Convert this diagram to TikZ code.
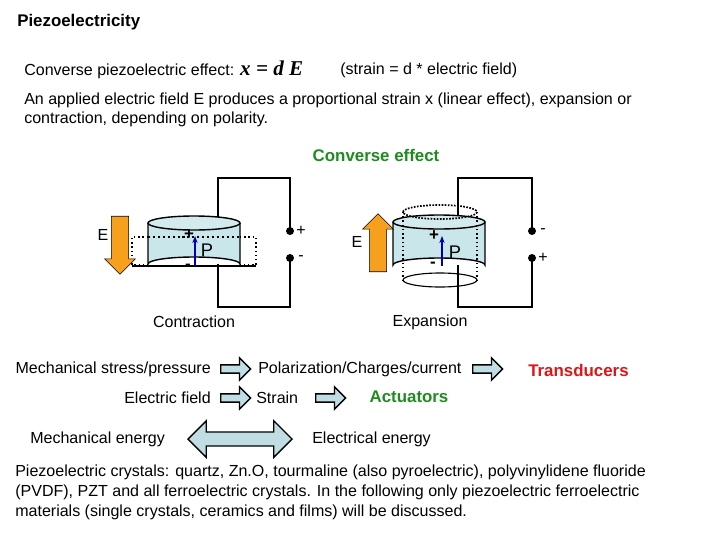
\documentclass[tikz,border=0pt]{standalone}
\usepackage{fontspec}
\setmainfont{Liberation Sans}
\usetikzlibrary{shapes.arrows,arrows.meta}
\definecolor{cyl}{HTML}{C9E6EA}
\definecolor{darr}{HTML}{BFDDE2}
\definecolor{orng}{HTML}{F7A01E}
\definecolor{grn}{HTML}{1E8C1E}
\definecolor{rd}{HTML}{D81818}
\tikzset{
  txt/.style={inner sep=0pt, font=\fontsize{11.4}{13.5}\selectfont},
  big/.style={single arrow, draw, line width=1pt, fill=darr, minimum height=#1,
    minimum width=16pt, single arrow head extend=3.5pt, inner sep=1.5pt, anchor=west},
  dot/.style={circle, fill, inner sep=2pt},
  wire/.style={line width=1.2pt},
  epole/.style={single arrow, fill=orng, draw=black, line width=.4pt, minimum height=58*0.025cm,
    minimum width=22pt, single arrow head extend=3pt, inner sep=3.5pt},
}
\newcommand*\piezo[4]{% x, half-width, ytop, ybot
  \fill[cyl] (#1-#2,#3) -- (#1-#2,#4) arc[start angle=180,end angle=360,x radius=#2,y radius=7] -- (#1+#2,#3) -- cycle;
  \draw[line width=1pt] (#1-#2,#3) -- (#1-#2,#4) arc[start angle=180,end angle=360,x radius=#2,y radius=7] -- (#1+#2,#3);
  \draw[line width=1pt, fill=cyl!80!white] (#1,#3) ellipse[x radius=#2, y radius=7];
}
\begin{document}
\begin{tikzpicture}[x=0.025cm,y=-0.025cm]
\useasboundingbox (0,0) rectangle (720,540);

% headings
\node[txt,anchor=west,font=\fontsize{12}{14}\selectfont\bfseries] (title) at (17,22) {Piezoelectricity};
\node[txt,anchor=west] (conv) at (24,70) {Converse piezoelectric effect: {\fontspec{Liberation Serif}\fontsize{15}{17}\selectfont\bfseries\itshape x = d E}};
\node[txt,anchor=west] (strain) at (340,70) {(strain = d * electric field)};
\node[txt,anchor=north west,align=left] (para) at (24,93) {An applied electric field E produces a proportional strain x (linear effect), expansion or\\contraction, depending on polarity.};
\node[txt,font=\fontsize{12}{14}\selectfont\bfseries,text=grn] (ceff) at (376,155) {Converse effect};

% contraction
\draw[wire] (218,223) -- (218,178) -- (290,178) -- (290,231);
\draw[wire] (218,264) -- (218,307) -- (290,307) -- (290,258);
\piezo{194}{46}{223}{264}
\draw[line width=1pt, dotted] (148,237) -- (132,237) -- (132,265) -- (148,265);
\draw[line width=1pt, dotted] (240,237) -- (256,237) -- (256,265) -- (240,265);
\draw[line width=1.5pt, dotted] (148,237) -- (240,237);
\draw[line width=1pt] (132,266) -- (256,266);
\node[epole, shape border rotate=270] (eL) at (120,241) {};
\node[txt] (eLl) at (103,235) {E};
\draw[-{Stealth[length=5pt]}, blue!70!black, line width=2pt] (195,266) -- (195,236);
\node[txt,font=\fontsize{12}{14}\selectfont\bfseries] at (189,235) {+};
\node[txt,font=\fontsize{12}{14}\selectfont\bfseries] at (188,267) {-};
\node[txt,font=\fontsize{13}{15}\selectfont] (pL) at (207,250) {P};
\node[dot] (pa) at (290,231) {};
\node[dot] (pb) at (290,258) {};
\node[txt,anchor=west] at (296,231) {+};
\node[txt,anchor=west] at (298,258) {-};
\node[txt] (contr) at (194,322) {Contraction};

% expansion
\draw[wire] (458,222) -- (458,178) -- (532,178) -- (532,231);
\draw[wire] (458,265) -- (458,307) -- (532,307) -- (532,258);
\draw[line width=.8pt] (440,280) ellipse[x radius=37, y radius=7];
\piezo{439}{46}{222}{265}
\draw[line width=1.2pt, densely dotted] (440,212) ellipse[x radius=37, y radius=7];
\draw[line width=1pt, dotted] (403,212) -- (403,280) (477,212) -- (477,280);
\node[epole, shape border rotate=90] (eR) at (378,247) {};
\node[txt] (eRl) at (357,242) {E};
\draw[-{Stealth[length=5pt]}, blue!70!black, line width=2pt] (442,266) -- (442,236);
\node[txt,font=\fontsize{12}{14}\selectfont\bfseries] at (434,236) {+};
\node[txt,font=\fontsize{12}{14}\selectfont\bfseries] at (433,265) {-};
\node[txt,font=\fontsize{13}{15}\selectfont] (pR) at (455,252) {P};
\node[dot] (pc) at (532,231) {};
\node[dot] (pd) at (532,258) {};
\node[txt,anchor=west] at (540,231) {-};
\node[txt,anchor=west] at (538,258) {+};
\node[txt] (expa) at (430,322) {Expansion};

% chains
\node[txt,anchor=east] (mech) at (211,369) {Mechanical stress/pressure};
\node[big=30*0.025cm] (a1) at (220,369) {};
\node[txt,anchor=west] (pol) at (258,369) {Polarization/Charges/current};
\node[big=30*0.025cm] (a2) at (472,369) {};
\node[txt,anchor=west,font=\fontsize{12}{14}\selectfont\bfseries,text=rd] (trans) at (528,370) {Transducers};
\node[txt,anchor=east] (efield) at (211,398) {Electric field};
\node[big=30*0.025cm] (a3) at (220,398) {};
\node[txt,anchor=west] (str) at (256,398) {Strain};
\node[big=30*0.025cm] (a4) at (315,398) {};
\node[txt,font=\fontsize{12}{14}\selectfont\bfseries,text=grn] (act) at (409,397) {Actuators};
\node[txt,anchor=west] (menergy) at (30,439) {Mechanical energy};
\node[double arrow, draw, line width=1pt, fill=darr, minimum height=104*0.025cm,
  minimum width=26pt, double arrow head extend=4pt, inner sep=2pt] (a5) at (240,439) {};
\node[txt,anchor=west] (eenergy) at (312,439) {Electrical energy};

\node[txt,anchor=north west,align=left,font=\fontsize{11.4}{14.2}\selectfont] (crys) at (15,465) {Piezoelectric crystals: quartz, Zn.O, tourmaline (also pyroelectric), polyvinylidene fluoride\\(PVDF), PZT and all ferroelectric crystals. In the following only piezoelectric ferroelectric\\materials (single crystals, ceramics and films) will be discussed.};
\end{tikzpicture}
\end{document}
